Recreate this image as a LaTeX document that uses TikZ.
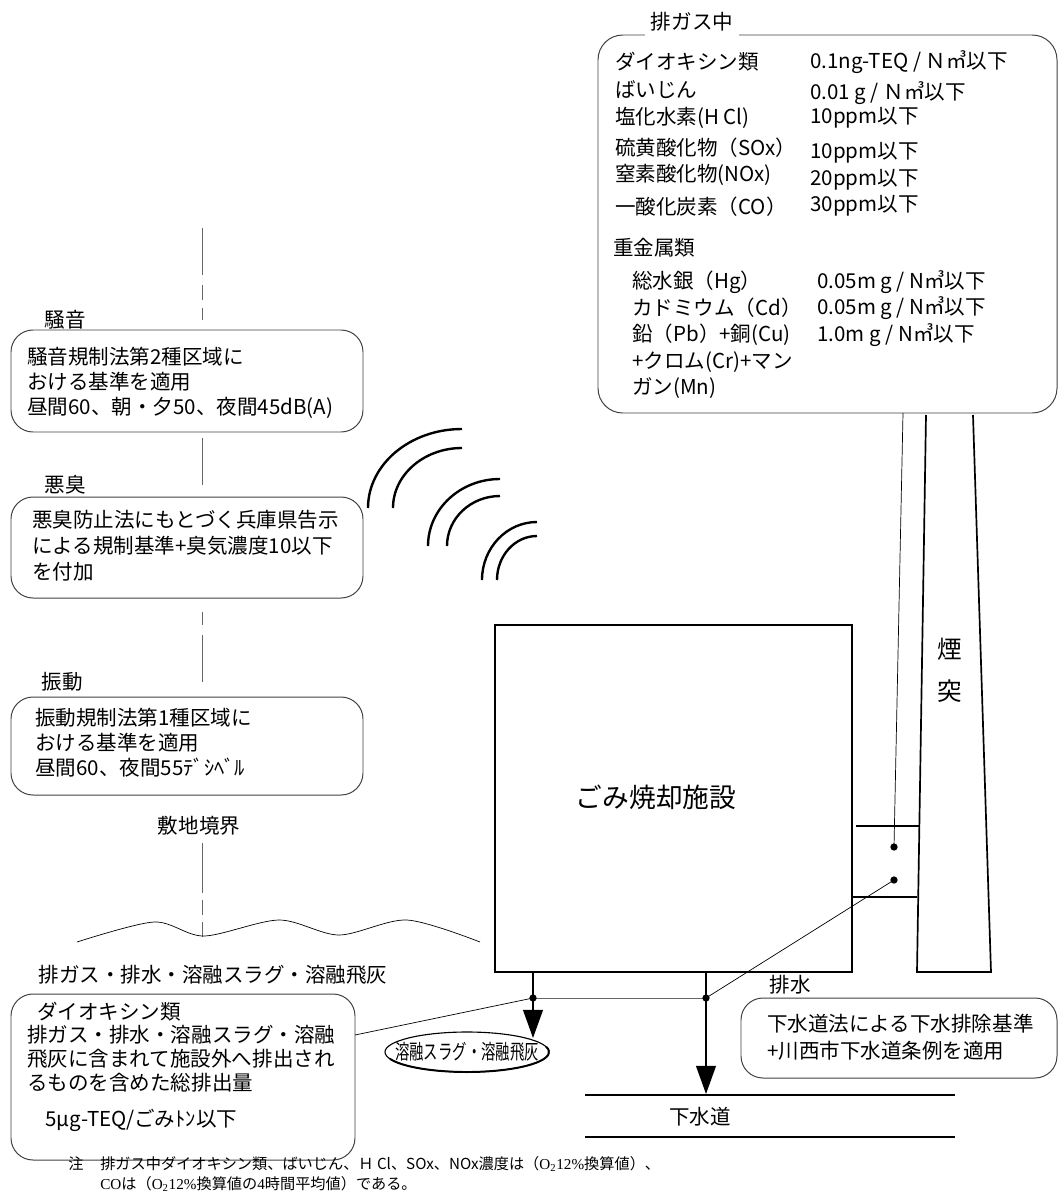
\documentclass[tikz,border=0pt]{standalone}
\usepackage{fontspec}
\setmainfont{Noto Sans CJK JP}
\newfontfamily\notelatin{Liberation Serif}
\usetikzlibrary{arrows.meta, shapes.geometric}
\newcommand{\pxu}{0.025cm}

\tikzset{
  txt/.style={anchor=west, inner sep=0pt, font=\fontsize{14.6pt}{17pt}\selectfont},
  lbl/.style={inner sep=0pt, font=\fontsize{14.6pt}{17pt}\selectfont},
  notetxt/.style={anchor=west, inner sep=0pt, font=\fontsize{10.8pt}{12pt}\selectfont},
  rbox/.style={draw=black!75, line width=0.7pt, rounded corners=0.55cm, inner sep=0pt},
  thinline/.style={line width=0.5pt},
  bound/.style={line width=0.6pt, black!60},
  wave/.style={line width=1.7pt},
  flow/.style={line width=1.4pt, -{Triangle[length=20pt,width=14pt]}},
}

\begin{document}
\begin{tikzpicture}[x=0.025cm, y=-0.025cm]
\useasboundingbox (0,0) rectangle (1059,1198);

% site boundary
\foreach \a/\b in {228/275, 285/300, 308/320, 438/485, 612/625, 635/682, 843/893, 900/915, 922/937}
  \draw[bound] (202,\a) -- (202,\b);
\draw[thinline] plot[smooth] coordinates {(77,942) (154,922) (204,936) (279,920) (339,935) (407,920) (480,942)};
\node[lbl] (sitelbl) at (199,826) {敷地境界};

% exhaust gas
\node[rbox, rounded corners=0.62cm, minimum width={459*\pxu}, minimum height={378*\pxu}] (gasbox) at (827.5,224) {};
\node[lbl, fill=white, inner xsep=4pt, inner ysep=3pt] (gastitle) at (692,22) {排ガス中};
\foreach \n/\y/\t in {a/62/ダイオキシン類, b/90/ばいじん, c/118/塩化水素(H Cl), d/148/硫黄酸化物（SOx）, e/175/窒素酸化物(NOx), f/207/一酸化炭素（CO）}
  \node[txt] (gl\n) at (615,\y) {\t};
\foreach \n/\y/\t in {a/62/{0.1ng-TEQ / Ｎ㎥以下}, b/93/{0.01 g / Ｎ㎥以下}, c/118/10ppm以下, d/153/10ppm以下, e/180/20ppm以下, f/206/30ppm以下}
  \node[txt] (gv\n) at (810,\y) {\t};
\node[txt] (metals) at (613,248) {重金属類};
\foreach \n/\y/\t in {a/282/総水銀（Hg）, b/308/カドミウム（Cd）, c/335/鉛（Pb）+銅(Cu), d/362/+クロム(Cr)+マン, e/388/ガン(Mn)}
  \node[txt] (ml\n) at (632,\y) {\t};
\foreach \n/\y/\t in {a/282/{0.05m g / N㎥以下}, b/308/{0.05m g / N㎥以下}, c/335/{1.0m g / N㎥以下}}
  \node[txt] (mv\n) at (817,\y) {\t};

% noise, odour, vibration
\node[lbl] (noiselbl) at (65,320) {騒音};
\node[rbox, minimum width={352*\pxu}, minimum height={102*\pxu}] (noisebox) at (187,381) {};
\node[txt] (noisea) at (27,357) {騒音規制法第2種区域に};
\node[txt] (noiseb) at (27,382) {おける基準を適用};
\node[txt] (noisec) at (27,408) {昼間60、朝・夕50、夜間45dB(A)};

\node[lbl] (odorlbl) at (65,485) {悪臭};
\node[rbox, minimum width={352*\pxu}, minimum height={101*\pxu}] (odorbox) at (187,547.5) {};
\node[txt] (odora) at (32,520) {悪臭防止法にもとづく兵庫県告示};
\node[txt] (odorb) at (32,546) {による規制基準+臭気濃度10以下};
\node[txt] (odorc) at (32,572) {を付加};

\node[lbl] (viblbl) at (62,682) {振動};
\node[rbox, minimum width={352*\pxu}, minimum height={98*\pxu}] (vibbox) at (187,746) {};
\node[txt] (viba) at (35,718) {振動規制法第1種区域に};
\node[txt] (vibb) at (35,743) {おける基準を適用};
\node[txt] (vibc) at (35,768) {昼間60、夜間55ﾃﾞｼﾍﾞﾙ};

% sound waves
\foreach \x/\y/\a/\b in {368/508/94/79, 393/508/69/60, 428/546/72/67, 447/546/53/50, 482/580/55/58, 497/580/40/44}
  \draw[wave] (\x,\y) arc[start angle=180, end angle=270, x radius=\a, y radius=\b];

% plant and stack
\node[draw, line width=1.6pt, inner sep=0pt, minimum width={357*\pxu}, minimum height={347*\pxu}] (plant) at (673.5,798.5) {};
\node[inner sep=0pt, font=\fontsize{19pt}{22pt}\selectfont] (plantlbl) at (656,797) {ごみ焼却施設};
\draw[line width=1.2pt] (926,415) -- (917,972) -- (991,972) -- (973,415);
\node[inner sep=0pt, font=\fontsize{17.5pt}{20pt}\selectfont] (stacka) at (950,649) {煙};
\node[inner sep=0pt, font=\fontsize{17.5pt}{20pt}\selectfont] (stackb) at (950,691) {突};
\draw[line width=1.2pt] (856,826) -- (919,826);
\draw[line width=1.2pt] (851,897) -- (917,897);

\coordinate (dotup) at (894,847);
\coordinate (dotlow) at (894,880);
\coordinate (gastap) at (903,413);
\coordinate (jl) at (533,998);
\coordinate (jr) at (706,998);
\coordinate (dxtap) at (355,1035);
\coordinate (slagtop) at (533,1038);
\coordinate (sewtop) at (706,1094);

% outputs
\node[lbl] (dxlbl) at (213,975) {排ガス・排水・溶融スラグ・溶融飛灰};
\node[rbox, minimum width={344*\pxu}, minimum height={166*\pxu}] (dxbox) at (183,1077) {};
\node[txt] (dxa) at (37,1012) {ダイオキシン類};
\node[txt] (dxb) at (27,1035) {排ガス・排水・溶融スラグ・溶融};
\node[txt] (dxc) at (27,1059) {飛灰に含まれて施設外へ排出され};
\node[txt] (dxd) at (27,1083) {るものを含めた総排出量};
\node[txt] (dxe) at (45,1120) {5μg-TEQ/ごみﾄﾝ以下};

\node[draw, ellipse, line width=0.8pt, inner sep=0pt, minimum width={164*\pxu}, minimum height={40*\pxu}] (slag) at (467,1052) {};
\node[lbl] (slaglbl) at (slag.center) {\scalebox{0.7}[1]{溶融スラグ・溶融飛灰}};
\draw[line width=1.4pt] (467,1052) ++(160:82 and 20) arc[start angle=160, end angle=-15, x radius=82, y radius=20];

\draw[flow] (plant.south -| jl) -- (slagtop);
\draw[flow] (plant.south -| jr) -- (sewtop);
\draw[thinline, black!60] (jl) -- (jr);
\draw[thinline] (dotup) -- (gastap);
\draw[thinline] (dotlow) -- (jr);
\draw[thinline] (dxtap) -- (jl);
\fill (jl) circle (2.6pt);
\fill (jr) circle (2.6pt);
\fill (dotup) circle (2.6pt);
\fill (dotlow) circle (2.6pt);

\draw[line width=1.2pt] (585,1095) -- (955,1095);
\draw[line width=1.2pt] (585,1137) -- (955,1137);
\node[lbl] (sewerlbl) at (700,1117) {下水道};

\node[lbl] (drainlbl) at (790,985) {排水};
\node[rbox, minimum width={316*\pxu}, minimum height={80*\pxu}] (drainbox) at (899,1038) {};
\node[txt] (draina) at (767,1024) {下水道法による下水排除基準};
\node[txt] (drainb) at (767,1051) {+川西市下水道条例を適用};

% note
\node[notetxt] (notemark) at (68,1164) {注};
\node[notetxt] (notea) at (100,1164) {排ガス中ダイオキシン類、ばいじん、Ｈ Cl、SOx、NOx濃度は（{\notelatin O\textsubscript{2}12\%}換算値）、};
\node[notetxt] (noteb) at (100,1184) {{\notelatin CO}は（{\notelatin O\textsubscript{2}12\%}換算値の{\notelatin 4}時間平均値）である。};

\end{tikzpicture}
\end{document}
